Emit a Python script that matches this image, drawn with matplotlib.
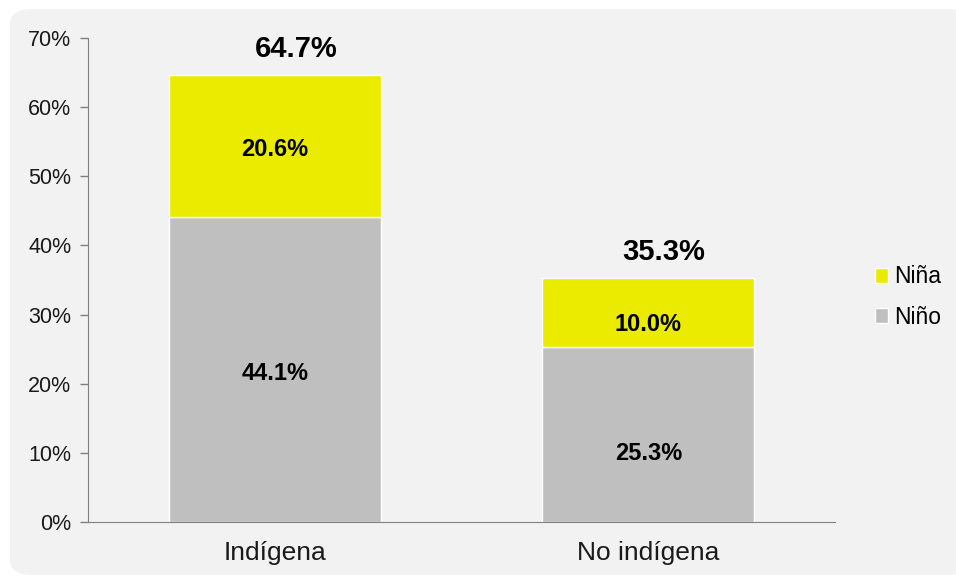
import numpy as np
import matplotlib.pyplot as plt
from matplotlib.patches import FancyBboxPatch, Patch
from matplotlib.ticker import PercentFormatter

plt.rcParams['font.family'] = ['Liberation Sans', 'DejaVu Sans']

# data
categorias = ['Indígena', 'No indígena']
nino = np.array([44.1, 25.3])   # Niño (bottom)
nina = np.array([20.6, 10.0])   # Niña (top)
totales = nino + nina

col_nina = '#EBEB00'
col_nino = '#BFBFBF'
fondo = '#F2F2F2'

fig = plt.figure(figsize=(9.56, 5.79), dpi=100)
fig.patch.set_facecolor('white')

# rounded light-grey panel behind the chart
panel = FancyBboxPatch((10 / 956, 4 / 579), 960 / 956, 566 / 579,
                       boxstyle='round,pad=0,rounding_size=0.025',
                       transform=fig.transFigure, facecolor=fondo,
                       edgecolor='none', zorder=-5)
fig.patches.append(panel)

ax = fig.add_axes([88 / 956, 1 - 522 / 579, 747 / 956, 484 / 579])
ax.set_facecolor('none')

x = np.arange(len(categorias))
ancho = 0.567
ax.bar(x, nino, ancho, color=col_nino, edgecolor='white', linewidth=1, zorder=2)
ax.bar(x, nina, ancho, bottom=nino, color=col_nina, edgecolor='white', linewidth=1, zorder=2)

ax.set_xlim(-0.5, 1.5)
ax.set_ylim(0, 70)
ax.set_yticks(np.arange(0, 71, 10))
ax.yaxis.set_major_formatter(PercentFormatter(decimals=0))
ax.set_xticks(x)
ax.set_xticklabels(categorias, fontsize=19, color='#1a1a1a')
ax.tick_params(axis='x', length=0, pad=14)
ax.tick_params(axis='y', length=6, width=1, color='#808080', labelsize=15.5,
               labelcolor='#1a1a1a', pad=6)

for s in ['top', 'right']:
    ax.spines[s].set_visible(False)
ax.spines['left'].set_color('#808080')
ax.spines['bottom'].set_color('#808080')

# segment labels (second bar's labels sit a bit lower than centre)
offs = [-4, -12]
offs_b = [-4, -19]
for i in range(len(categorias)):
    ax.annotate(f'{nina[i]:.1f}%', (x[i], nino[i] + nina[i] / 2),
                xytext=(0, offs[i]), textcoords='offset pixels',
                ha='center', va='center', fontsize=17, fontweight='bold', zorder=3)
    ax.annotate(f'{nino[i]:.1f}%', (x[i], nino[i] / 2),
                xytext=(0, offs_b[i]), textcoords='offset pixels',
                ha='center', va='center', fontsize=17, fontweight='bold', zorder=3)

# totals above bars
tot_dx = [22, 15]
for i in range(len(categorias)):
    ax.annotate(f'{totales[i]:.1f}%', (x[i], totales[i]),
                xytext=(tot_dx[i], 26), textcoords='offset pixels',
                ha='center', va='center', fontsize=21, fontweight='bold',
                annotation_clip=False)

handles = [Patch(facecolor=col_nina, edgecolor='white'),
           Patch(facecolor=col_nino, edgecolor='white')]
fig.legend(handles, ['Niña', 'Niño'], loc='center left',
           bbox_to_anchor=(854 / 956, 1 - 297 / 579), frameon=False,
           fontsize=16.5, handlelength=0.6, handleheight=0.6,
           handletextpad=0.25, labelspacing=0.75)

fig.savefig('out.png', dpi=100, facecolor='white')
